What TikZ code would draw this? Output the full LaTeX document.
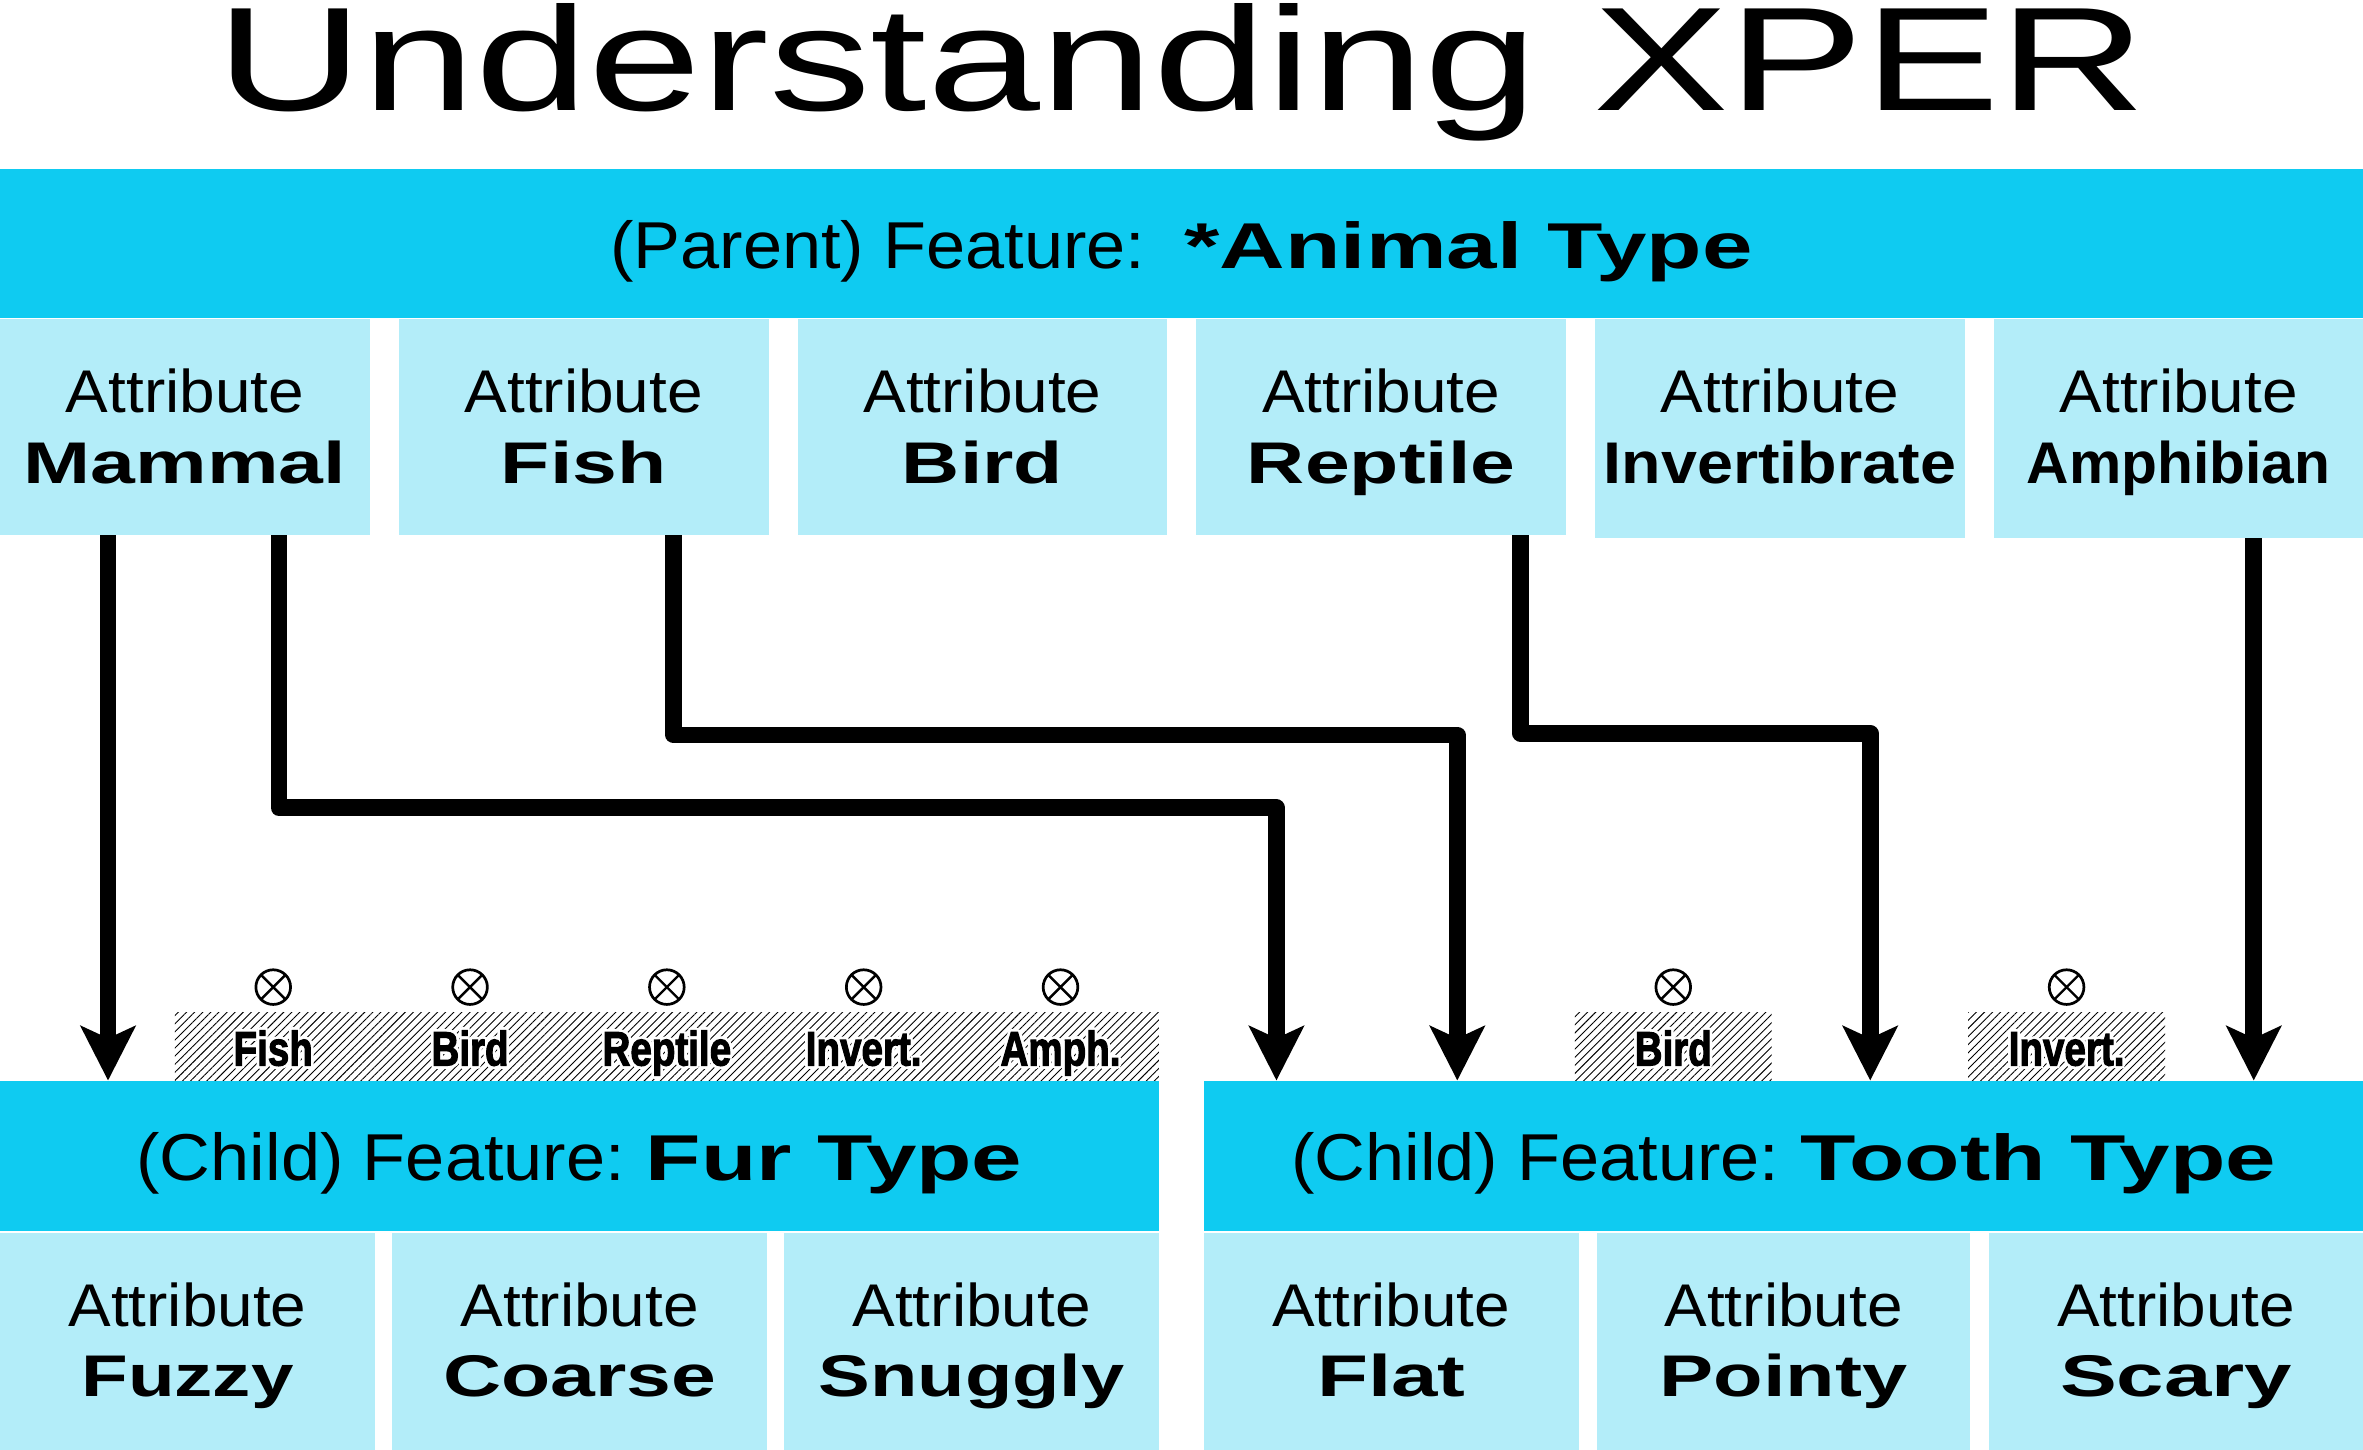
\documentclass[tikz,border=0pt]{standalone}
\usepackage{fontspec}
\usepackage{graphicx}
\setmainfont{Liberation Sans}
\newfontfamily\condfont{Liberation Sans Bold}[FakeBold=2.5]
\usetikzlibrary{arrows.meta,patterns.meta,calc}
\definecolor{cyanbar}{HTML}{0FCBF1}
\definecolor{cyanlight}{HTML}{B3EDF9}
\newcommand\halo[1]{{\color{white}%
  \rlap{\kern-1.8pt#1}\rlap{\kern1.8pt#1}%
  \rlap{\raisebox{1.8pt}{#1}}\rlap{\raisebox{-1.8pt}{#1}}%
  \rlap{\kern-1.3pt\raisebox{1.3pt}{#1}}\rlap{\kern1.3pt\raisebox{1.3pt}{#1}}%
  \rlap{\kern-1.3pt\raisebox{-1.3pt}{#1}}\rlap{\kern1.3pt\raisebox{-1.3pt}{#1}}}#1}
\newcommand\attrpair[5]{%
  \node[attrword] (#1-a) at (#2,#3) {\scalebox{1.06}[1]{Attribute}};
  \node[nameword] (#1-n) at (#2,#3+46.5) {\scalebox{#4}[1]{#5}};
}
\newcommand\hatchlabel[4]{%
  \node[hatchbox] (#1) at (#2,717) {};
  \node[hatchword] (#1-t) at ($(#1.south)+(0,-10)$) {\halo{\scalebox{0.8}[1]{#4}}};
  \node[xmark] (#1-x) at ($(#1.north)+(0,-17)$) {};
}
\tikzset{
  bar/.style={fill=cyanbar, draw=none, inner sep=0pt, outer sep=0pt, anchor=north west},
  attr/.style={fill=cyanlight, draw=none, inner sep=0pt, outer sep=0pt, anchor=north west},
  hatchbox/.style={pattern={Lines[angle=45,distance=3.8pt,line width=0.6pt]}, draw=none,
    inner sep=0pt, outer sep=0pt, minimum width=130.6pt, minimum height=45pt, anchor=south west},
  xmark/.style={circle, draw, line width=1.8pt, minimum size=23pt, inner sep=0pt,
    path picture={\draw[line width=1.6pt] (path picture bounding box.north west) -- (path picture bounding box.south east)
      (path picture bounding box.north east) -- (path picture bounding box.south west);}},
  link/.style={line width=11pt, line join=round, -{Stealth[length=36pt,width=36pt,inset=8pt]}},
  word/.style={inner sep=0pt, outer sep=0pt, anchor=base},
  attrword/.style={word, font=\fontsize{40}{40}\selectfont},
  nameword/.style={word, font=\fontsize{39}{39}\selectfont\bfseries},
  hatchword/.style={word, font=\fontsize{32}{32}\selectfont\condfont},
}
\begin{document}
\begin{tikzpicture}[x=1pt,y=-1pt]
\useasboundingbox (0,0) rectangle (1568,962);
% title
\node[word, font=\fontsize{98}{98}\selectfont] (title) at (784,73) {\scalebox{1.375}[1]{Understanding XPER}};
% parent feature bar
\node[bar, minimum width=1568pt, minimum height=99pt] (parent) at (0,112) {};
\node[word] (parent-t) at (784,178) {\fontsize{44}{44}\selectfont\scalebox{1.06}[1]{(Parent) Feature:}\hspace{26pt}\fontsize{43}{43}\selectfont\bfseries\scalebox{1.4}[1]{*Animal Type}};
% top attributes
\node[attr, minimum width=245.4pt, minimum height=143pt] (mammal) at (0,212) {};
\node[attr, minimum width=245.4pt, minimum height=143pt] (fish) at (264.6,212) {};
\node[attr, minimum width=245.4pt, minimum height=143pt] (bird) at (529.2,212) {};
\node[attr, minimum width=245.4pt, minimum height=143pt] (reptile) at (793.8,212) {};
\node[attr, minimum width=245.4pt, minimum height=145pt] (invert) at (1058.4,212) {};
\node[attr, minimum width=245pt, minimum height=145pt] (amphibian) at (1323,212) {};
\attrpair{mammal}{122.7}{274}{1.37}{Mammal}
\attrpair{fish}{387.3}{274}{1.37}{Fish}
\attrpair{bird}{651.9}{274}{1.37}{Bird}
\attrpair{reptile}{916.5}{274}{1.37}{Reptile}
\attrpair{invert}{1181.1}{274}{1.1}{Invertibrate}
\attrpair{amphibian}{1445.7}{274}{1.0}{Amphibian}
% child feature bars
\node[bar, minimum width=769pt, minimum height=100pt] (furbar) at (0,717) {};
\node[bar, minimum width=769pt, minimum height=100pt] (toothbar) at (799,717) {};
\node[word] (furbar-t) at (384.5,783) {\fontsize{44}{44}\selectfont\scalebox{1.06}[1]{(Child) Feature:}\hspace{14pt}\fontsize{43}{43}\selectfont\bfseries\scalebox{1.4}[1]{Fur Type}};
\node[word] (toothbar-t) at (1183.5,783) {\fontsize{44}{44}\selectfont\scalebox{1.06}[1]{(Child) Feature:}\hspace{14pt}\fontsize{43}{43}\selectfont\bfseries\scalebox{1.4}[1]{Tooth Type}};
% bottom attributes
\node[attr, minimum width=248.8pt, minimum height=146pt] (fuzzy) at (0,818) {};
\node[attr, minimum width=248.8pt, minimum height=146pt] (coarse) at (260.3,818) {};
\node[attr, minimum width=248.8pt, minimum height=146pt] (snuggly) at (520.3,818) {};
\node[attr, minimum width=248.5pt, minimum height=146pt] (flat) at (799,818) {};
\node[attr, minimum width=248pt, minimum height=146pt] (pointy) at (1059.5,818) {};
\node[attr, minimum width=248pt, minimum height=146pt] (scary) at (1320,818) {};
\attrpair{fuzzy}{124.4}{880}{1.3}{Fuzzy}
\attrpair{coarse}{384.7}{880}{1.37}{Coarse}
\attrpair{snuggly}{644.7}{880}{1.32}{Snuggly}
\attrpair{flat}{923.2}{880}{1.42}{Flat}
\attrpair{pointy}{1183.5}{880}{1.38}{Pointy}
\attrpair{scary}{1444}{880}{1.45}{Scary}
% hatched excluded-attribute labels
\hatchlabel{hfish}{116}{}{Fish}
\hatchlabel{hbird}{246.6}{}{Bird}
\hatchlabel{hreptile}{377.2}{}{Reptile}
\hatchlabel{hinvert}{507.8}{}{Invert.}
\hatchlabel{hamph}{638.4}{}{Amph.}
\hatchlabel{tbird}{1045}{}{Bird}
\hatchlabel{tinvert}{1306}{}{Invert.}
% connectors
\draw[link] ($(mammal.south west)+(71.7,0)$) -- ($(furbar.north west)+(71.7,0)$);
\draw[link] ($(mammal.south west)+(185,0)$) |- (847,536) -- ($(toothbar.north west)+(48,0)$);
\draw[link] ($(fish.south west)+(182.4,0)$) |- (967,487.7) -- ($(toothbar.north west)+(168,0)$);
\draw[link] ($(reptile.south west)+(215.2,0)$) |- (1241,486.6) -- ($(toothbar.north west)+(442,0)$);
\draw[link] ($(amphibian.south west)+(172.5,0)$) -- ($(toothbar.north west)+(696.5,0)$);
\end{tikzpicture}
\end{document}
